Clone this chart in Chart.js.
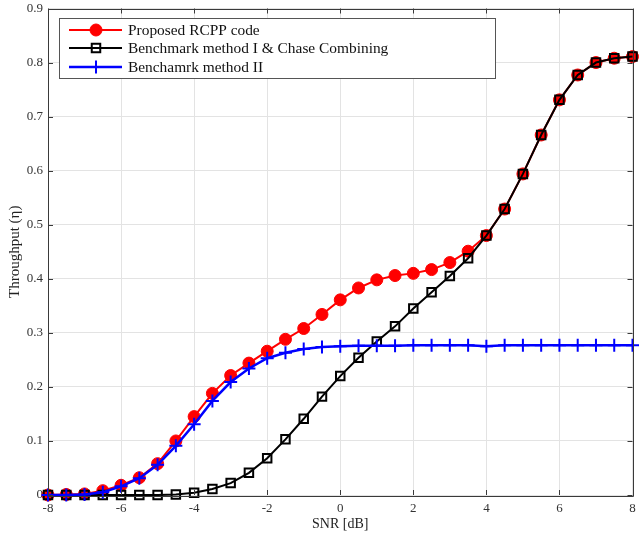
<!DOCTYPE html>
<html>
<head>
<meta charset="utf-8">
<script src="https://cdn.jsdelivr.net/npm/chart.js@4/dist/chart.umd.min.js"></script>
<style>
  html, body { margin: 0; padding: 0; background: #fff; }
  #wrap { width: 641px; height: 533px; }
</style>
</head>
<body>
<div id="wrap"><canvas id="c" width="641" height="533"></canvas></div>
<script>
const snr = [-8,-7.5,-7,-6.5,-6,-5.5,-5,-4.5,-4,-3.5,-3,-2.5,-2,-1.5,-1,-0.5,0,0.5,1,1.5,2,2.5,3,3.5,4,4.5,5,5.5,6,6.5,7,7.5,8];
const proposed = [0,0.001,0.002,0.008,0.018,0.032,0.058,0.100,0.145,0.188,0.221,0.244,0.266,0.288,0.308,0.334,0.361,0.383,0.398,0.406,0.410,0.417,0.430,0.451,0.480,0.529,0.594,0.666,0.731,0.777,0.800,0.808,0.811];
const benchmark1 = [0,0,0,0,0,0,0,0.001,0.004,0.011,0.022,0.041,0.068,0.103,0.141,0.182,0.220,0.254,0.284,0.312,0.345,0.375,0.405,0.438,0.480,0.529,0.594,0.666,0.731,0.777,0.800,0.808,0.811];
const benchmark2 = [0,0,0.001,0.005,0.016,0.031,0.056,0.091,0.131,0.174,0.209,0.234,0.253,0.263,0.270,0.274,0.275,0.276,0.276,0.276,0.277,0.277,0.277,0.277,0.275,0.277,0.277,0.277,0.277,0.277,0.277,0.277,0.277];
const seriesNames = ['Proposed RCPP code', 'Benchmark method I & Chase Combining', 'Benchamrk method II'];
const xTickLabels = ['-8','-6','-4','-2','0','2','4','6','8'];
const yTickLabels = ['0','0.1','0.2','0.3','0.4','0.5','0.6','0.7','0.8','0.9'];
const xTitle = 'SNR [dB]';
const yTitle = 'Throughput (\u03B7)';

const FONT = '"Liberation Serif", "Times New Roman", serif';
const toPts = (ys) => snr.map((x, i) => ({ x: x, y: ys[i] }));

const frameAndLegend = {
  id: 'frameAndLegend',
  afterDraw(chart) {
    const ctx = chart.ctx;
    const a = chart.chartArea;
    const xs = chart.scales.x, ys = chart.scales.y;
    ctx.save();
    ctx.strokeStyle = '#3a3a3a';
    ctx.lineWidth = 1;
    ctx.beginPath();
    ctx.rect(Math.round(a.left) + 0.5, Math.round(a.top) + 0.5, Math.round(a.right - a.left), Math.round(a.bottom - a.top));
    ctx.stroke();
    const tl = 5;
    ctx.beginPath();
    xs.ticks.forEach(t => {
      const px = Math.round(xs.getPixelForValue(t.value)) + 0.5;
      ctx.moveTo(px, a.bottom); ctx.lineTo(px, a.bottom - tl);
      ctx.moveTo(px, a.top); ctx.lineTo(px, a.top + tl);
    });
    ys.ticks.forEach(t => {
      const py = Math.round(ys.getPixelForValue(t.value)) + 0.5;
      ctx.moveTo(a.left, py); ctx.lineTo(a.left + tl, py);
      ctx.moveTo(a.right, py); ctx.lineTo(a.right - tl, py);
    });
    ctx.stroke();

    const lx = 59, ly = 18, lw = 436, lh = 60;
    ctx.fillStyle = '#fff';
    ctx.fillRect(lx, ly, lw, lh);
    ctx.strokeStyle = '#555';
    ctx.lineWidth = 1;
    ctx.strokeRect(lx + 0.5, ly + 0.5, lw, lh);
    const rows = [30, 48, 67];
    ctx.font = '15.4px ' + FONT;
    ctx.textBaseline = 'middle';
    ctx.textAlign = 'left';
    chart.data.datasets.forEach((ds, i) => {
      const y = rows[i];
      ctx.strokeStyle = ds.borderColor;
      ctx.lineWidth = ds.borderWidth;
      ctx.beginPath();
      ctx.moveTo(69, y); ctx.lineTo(122, y);
      ctx.stroke();
      ctx.save();
      ctx.fillStyle = ds.pointBackgroundColor;
      ctx.strokeStyle = ds.pointBorderColor;
      ctx.lineWidth = ds.pointBorderWidth;
      Chart.helpers.drawPoint(ctx, {
        pointStyle: ds.pointStyle,
        radius: ds.pointRadius,
        borderWidth: ds.pointBorderWidth,
        rotation: 0
      }, 96, y);
      ctx.restore();
      ctx.fillStyle = '#111';
      ctx.fillText(ds.label, 128, y + 1);
    });
    ctx.restore();
  }
};

new Chart(document.getElementById('c'), {
  type: 'line',
  data: {
    datasets: [
      {
        label: seriesNames[0], data: toPts(proposed),
        borderColor: '#ff0000', borderWidth: 2,
        pointStyle: 'circle', pointRadius: 6, pointBorderWidth: 1,
        pointBackgroundColor: '#ff0000', pointBorderColor: '#ff0000',
        order: 3, clip: false
      },
      {
        label: seriesNames[1], data: toPts(benchmark1),
        borderColor: '#000000', borderWidth: 2,
        pointStyle: 'rect', pointRadius: 6, pointBorderWidth: 2,
        pointBackgroundColor: 'rgba(0,0,0,0)', pointBorderColor: '#000000',
        order: 2, clip: false
      },
      {
        label: seriesNames[2], data: toPts(benchmark2),
        borderColor: '#0000ff', borderWidth: 2.5,
        pointStyle: 'cross', pointRadius: 6.5, pointBorderWidth: 2,
        pointBackgroundColor: '#0000ff', pointBorderColor: '#0000ff',
        order: 1, clip: false
      }
    ]
  },
  options: {
    responsive: false,
    animation: false,
    events: [],
    layout: { padding: { left: 0, right: 0, top: 0, bottom: 0 } },
    plugins: { legend: { display: false }, tooltip: { enabled: false } },
    elements: { line: { tension: 0 } },
    scales: {
      x: {
        type: 'linear', min: -8, max: 8,
        border: { display: false },
        grid: { color: '#e3e3e3', lineWidth: 1, drawTicks: false },
        ticks: {
          stepSize: 2, padding: 6, color: '#333', maxRotation: 0,
          font: { family: FONT, size: 13 },
          callback: (v, i) => xTickLabels[i]
        },
        title: { display: true, text: xTitle, color: '#222', padding: { top: 0, bottom: 0 }, font: { family: FONT, size: 14 } },
        afterFit: (s) => { s.height = 38; s.paddingRight = 7; s.paddingLeft = 0; }
      },
      y: {
        min: 0, max: 0.9,
        border: { display: false },
        grid: { color: '#e3e3e3', lineWidth: 1, drawTicks: false },
        ticks: {
          stepSize: 0.1, padding: 5, color: '#333',
          font: { family: FONT, size: 13 },
          callback: (v, i) => yTickLabels[i]
        },
        title: { display: true, text: yTitle, color: '#222', padding: { top: 6, bottom: 0 }, font: { family: FONT, size: 15 } },
        afterFit: (s) => { s.width = 48; s.paddingTop = 8; s.paddingBottom = 0; }
      }
    }
  },
  plugins: [frameAndLegend]
});
</script>
</body>
</html>
